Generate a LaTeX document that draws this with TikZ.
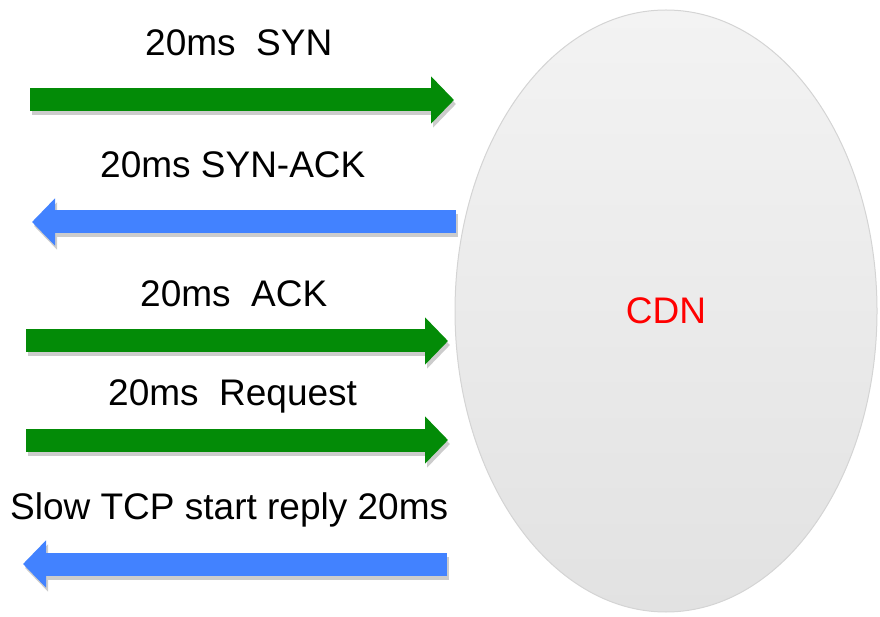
\documentclass[tikz,border=0pt]{standalone}
\usepackage{fontspec}
\setmainfont{Liberation Sans}
\usetikzlibrary{arrows.meta, shapes.geometric}

\definecolor{sendgreen}{RGB}{3,139,7}
\definecolor{replyblue}{RGB}{66,130,255}
\definecolor{cdntop}{RGB}{243,243,243}
\definecolor{cdnbottom}{RGB}{226,226,226}
\definecolor{cdnline}{RGB}{212,212,212}

\tikzset{
  fatarrow/.style={line width=23pt, -{Triangle[length=23pt, width=46pt]}},
  arrowshadow/.style={fatarrow, draw=black!20},
  msg/.style={anchor=base west, inner sep=0pt, font=\fontsize{37}{44}\selectfont}
}

\begin{document}
\begin{tikzpicture}[x=1pt, y=1pt]
    \useasboundingbox (0, 0) rectangle (880, 616);

    % draw CDN ellipse
    \node[ellipse, minimum width=422pt, minimum height=602pt, draw=cdnline,
          line width=1pt, top color=cdntop, bottom color=cdnbottom,
          text=red, font=\fontsize{37}{44}\selectfont] (cdn) at (666, 305) {CDN};

    % draw labels
    \node[msg] (syn)     at (145, 560) {20ms\ \ SYN};
    \node[msg] (synack)  at (100, 438) {20ms SYN-ACK};
    \node[msg] (ack)     at (140, 309) {20ms\ \ ACK};
    \node[msg] (request) at (108, 211) {20ms\ \ Request};
    \node[msg] (reply)   at (10, 97)   {Slow TCP start reply 20ms};

    % arrow end points
    \coordinate (syn-from)     at (30, 516);
    \coordinate (syn-to)       at (454, 516);
    \coordinate (synack-from)  at (456, 394);
    \coordinate (synack-to)    at (32, 394);
    \coordinate (ack-from)     at (26, 275);
    \coordinate (ack-to)       at (448, 275);
    \coordinate (request-from) at (26, 176);
    \coordinate (request-to)   at (448, 176);
    \coordinate (reply-from)   at (447, 52);
    \coordinate (reply-to)     at (23, 52);

    % draw shadows under arrows
    \foreach \msgname in {syn, synack, ack, request, reply}
      \draw[arrowshadow] ([shift={(2,-4)}]\msgname-from) -- ([shift={(2,-4)}]\msgname-to);

    % draw green requests and blue replies
    \draw[fatarrow, sendgreen] (syn-from) -- (syn-to);
    \draw[fatarrow, replyblue] (synack-from) -- (synack-to);
    \draw[fatarrow, sendgreen] (ack-from) -- (ack-to);
    \draw[fatarrow, sendgreen] (request-from) -- (request-to);
    \draw[fatarrow, replyblue] (reply-from) -- (reply-to);

\end{tikzpicture}
\end{document}
